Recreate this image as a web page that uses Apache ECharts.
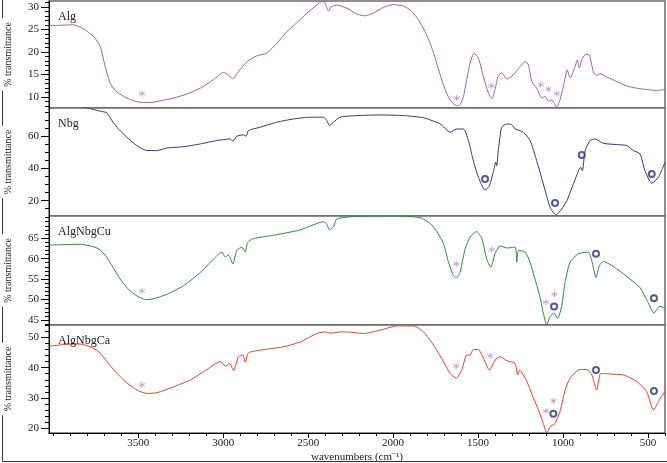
<!DOCTYPE html>
<html style="height: 100%">
<head>
<meta charset="utf-8">
</head>
<body style="height: 100%; margin: 0; background: #fff">
<div id="container" style="width: 667px; height: 463px"></div>
<script type="text/javascript" src="https://cdn.jsdelivr.net/npm/echarts@6/dist/echarts.min.js"></script>
<script type="text/javascript">
// spectra: [wavenumber, % transmittance]
var algData = [[4024,25.8],[3880,26.0],[3822,25.1],[3763,23.4],[3723,21.2],[3704,18.2],[3684,15.3],[3665,13.0],[3635,11.4],[3586,10.1],[3527,9.1],[3469,8.7],[3429,8.7],[3370,9.1],[3292,9.7],[3214,10.6],[3135,11.9],[3057,13.8],[2998,15.4],[2969,14.9],[2945,14.0],[2920,15.1],[2860,17.8],[2802,19.1],[2743,19.7],[2684,21.9],[2625,24.5],[2566,26.5],[2507,28.6],[2449,30.4],[2419,31.2],[2400,30.8],[2380,29.1],[2365,30.0],[2331,30.4],[2272,29.7],[2213,28.4],[2165,28.0],[2116,28.6],[2057,29.9],[1998,30.5],[1939,30.2],[1890,29.0],[1851,27.1],[1812,24.5],[1782,21.9],[1753,18.6],[1723,14.9],[1694,11.6],[1665,9.3],[1626,8.0],[1606,8.2],[1586,10.1],[1567,13.8],[1547,17.5],[1524,19.7],[1498,18.6],[1469,14.5],[1439,10.8],[1419,9.6],[1400,11.6],[1381,14.7],[1361,15.3],[1331,13.9],[1292,14.9],[1253,16.7],[1223,17.8],[1204,17.1],[1184,13.4],[1155,11.9],[1125,9.7],[1106,10.1],[1086,9.0],[1066,9.3],[1037,7.7],[1018,9.3],[998,12.3],[975,16.0],[959,14.2],[929,16.7],[916,18.2],[904,16.4],[890,18.2],[865,19.5],[845,19.3],[822,15.6],[802,14.7],[782,15.1],[743,14.4],[684,13.4],[625,12.4],[566,11.9],[508,11.6],[449,11.4],[400,11.6]];
var nbgData = [[4024,84],[3900,80],[3782,77.1],[3723,75.5],[3684,74.5],[3655,69.7],[3616,64.5],[3567,59.4],[3508,54.2],[3449,51.1],[3390,51.1],[3331,52.7],[3233,53.5],[3135,55.2],[3037,57.3],[2959,58.3],[2943,56.9],[2920,60.0],[2880,60.8],[2865,60.0],[2851,63.5],[2782,65.6],[2684,68.7],[2586,70.7],[2488,71.8],[2409,71.8],[2390,69.7],[2374,66.6],[2351,68.7],[2312,71.8],[2213,72.8],[2076,73.2],[1939,72.8],[1821,71.4],[1723,67.6],[1665,62.5],[1626,64.5],[1586,64.5],[1557,57.3],[1528,44.8],[1498,34.5],[1459,26.6],[1433,29.3],[1406,39.7],[1396,43.9],[1390,41.8],[1381,51.1],[1361,65.6],[1331,67.6],[1302,67.2],[1282,64.5],[1233,62.5],[1194,57.3],[1155,44.8],[1116,30.4],[1076,15.9],[1041,11.1],[1008,14.8],[978,20.0],[939,30.4],[896,40.7],[886,38.6],[870,51.1],[841,57.3],[812,58.3],[763,55.6],[684,54.8],[625,54.2],[586,51.1],[547,49.0],[518,38.6],[478,30.8],[439,34.5],[400,43.9]];
var cuData = [[4024,63.3],[3841,63.5],[3782,63.1],[3733,62.4],[3694,60.8],[3655,58.3],[3606,55.0],[3557,52.5],[3508,50.9],[3459,50.0],[3410,50.2],[3331,51.3],[3233,53.4],[3135,56.6],[3057,59.9],[3008,61.6],[2988,60.4],[2969,60.9],[2943,58.7],[2920,62.0],[2890,62.8],[2870,61.6],[2857,63.9],[2821,64.9],[2704,65.7],[2547,67.0],[2409,69.0],[2390,68.4],[2374,67.0],[2351,67.8],[2331,69.7],[2213,70.3],[1978,70.4],[1841,70.0],[1782,68.6],[1743,66.6],[1704,63.7],[1674,59.1],[1649,56.2],[1629,55.2],[1606,56.7],[1576,62.4],[1547,65.3],[1508,66.6],[1478,64.9],[1449,59.9],[1425,57.9],[1400,61.2],[1371,63.1],[1331,62.6],[1282,62.8],[1272,59.1],[1262,62.0],[1223,61.6],[1194,59.1],[1165,55.0],[1135,50.5],[1116,46.7],[1096,43.8],[1076,45.9],[1053,46.7],[1031,45.5],[1008,48.4],[988,54.2],[959,59.1],[910,61.2],[851,61.6],[831,59.5],[806,55.4],[786,58.3],[763,59.3],[684,57.5],[606,55.0],[547,52.9],[498,49.2],[465,46.7],[430,48.4],[400,48.0]];
var caData = [[4024,47.1],[3920,47.7],[3841,47.8],[3782,46.9],[3733,45.3],[3684,42.0],[3635,38.7],[3576,35.4],[3508,32.6],[3449,31.5],[3390,31.7],[3292,33.7],[3194,35.9],[3096,39.4],[3017,42.0],[2988,40.5],[2962,41.4],[2939,39.0],[2910,43.6],[2884,44.2],[2870,41.8],[2851,44.9],[2782,45.8],[2645,46.9],[2547,48.5],[2449,51.3],[2400,51.8],[2370,51.4],[2312,51.8],[2272,51.8],[2174,51.3],[2076,52.4],[1978,53.8],[1880,53.8],[1821,51.8],[1763,47.5],[1704,42.0],[1665,38.1],[1629,36.5],[1596,39.2],[1567,44.2],[1547,44.2],[1528,46.0],[1498,46.0],[1469,43.1],[1433,39.2],[1400,42.5],[1371,43.6],[1331,42.3],[1282,41.4],[1268,37.6],[1256,39.2],[1213,35.4],[1174,29.9],[1145,26.0],[1116,21.6],[1096,18.3],[1076,20.5],[1047,21.6],[1018,25.5],[988,32.6],[959,36.5],[910,39.2],[861,39.4],[831,37.6],[802,32.6],[778,38.1],[724,37.9],[645,37.6],[566,35.4],[508,32.1],[468,26.0],[439,28.8],[400,32.1]];

// band markers
var algStars = [[3478,10.7],[1626,9.7],[1423,12.4],[1131,12.7],[1086,11.7],[1037,10.7]];
var nbgCircles = [[1459,33.5],[1047,18.6],[890,48.4],[478,36.6]];
var cuStars = [[3478,52.1],[1629,58.7],[1420,62.2],[1100,49.4],[1051,51.3]];
var cuCircles = [[1053,48.3],[806,61.2],[465,50.3]];
var caStars = [[3478,34.3],[1629,40.5],[1429,43.9],[1100,25.7],[1057,29.0]];
var caCircles = [[1057,24.8],[806,39.2],[465,32.3]];

var panelNames = ['Alg', 'Nbg', 'AlgNbgCu', 'AlgNbgCa'];
var lineColors = ['#a35fab', '#33387a', '#2f8a40', '#e2432d'];
var yMins = [7.5, 10.5, 43.8, 18.4];
var yMaxs = [31.3, 77.5, 70.4, 54.1];
var yMajors = [[10, 15, 20, 25, 30], [20, 40, 60], [45, 50, 55, 60, 65], [20, 30, 40, 50]];
var yMinorStep = [1, 5, 1, 2];
var xMajors = [500, 1000, 1500, 2000, 2500, 3000, 3500];
var xMin = 400, xMax = 4025;

var serif = 'Liberation Serif';
var gridTops = [1, 108, 216, 325];
var gridHeights = [107, 108, 109, 108];
var starPath = 'path://M5,0L5,10M0.7,2.5L9.3,7.5M0.7,7.5L9.3,2.5';

var dom = document.getElementById('container');
var myChart = echarts.init(dom);

var grids = [], xAxes = [], yAxes = [], series = [], titles = [];
var spectra = [algData, nbgData, cuData, caData];
var stars = [algStars, null, cuStars, caStars];
var circles = [null, nbgCircles, cuCircles, caCircles];
var plain = function (v) { return String(v); };

for (var i = 0; i < 4; i++) {
    grids.push({
        left: 49, right: 2, top: gridTops[i], height: gridHeights[i],
        outerBoundsMode: 'none', containLabel: false,
        show: true, borderColor: '#6a6a6a', borderWidth: 1.5, backgroundColor: '#fff'
    });
    var last = (i === 3);
    xAxes.push({
        type: 'value', gridIndex: i, min: xMin, max: xMax, inverse: true, position: 'bottom',
        axisLine: {show: last, onZero: false, lineStyle: {color: '#000', width: 1}},
        axisTick: {show: last, length: 5, customValues: xMajors, lineStyle: {color: '#000'}},
        axisLabel: {show: last, customValues: xMajors, formatter: plain, margin: 5, color: '#222', fontFamily: serif, fontSize: 11},
        splitLine: {show: false},
        name: last ? 'wavenumbers (cm\u207B\u00B9)' : '',
        nameLocation: 'middle', nameGap: 19,
        nameTextStyle: {color: '#222', fontFamily: serif, fontSize: 11}
    });
    var minors = [];
    for (var v = Math.ceil(yMins[i] / yMinorStep[i]) * yMinorStep[i]; v <= yMaxs[i]; v += yMinorStep[i]) {
        if (yMajors[i].indexOf(v) < 0) minors.push(v);
    }
    yAxes.push({
        type: 'value', gridIndex: i, min: yMins[i], max: yMaxs[i], position: 'left',
        axisLine: {show: true, lineStyle: {color: '#000', width: 1}},
        axisTick: {show: true, length: 8, customValues: yMajors[i], lineStyle: {color: '#000'}},
        axisLabel: {customValues: yMajors[i], formatter: plain, margin: 10, color: '#222', fontFamily: serif, fontSize: 11},
        splitLine: {show: false},
        name: '% transmittance', nameLocation: 'middle', nameRotate: 90, nameGap: 35,
        nameTextStyle: {color: '#222', fontFamily: serif, fontSize: 10, backgroundColor: '#fff', padding: [1, 4]}
    });
    yAxes.push({
        type: 'value', gridIndex: i, min: yMins[i], max: yMaxs[i], position: 'left', offset: 0,
        axisLine: {show: false},
        axisTick: {show: true, length: 4, customValues: minors, lineStyle: {color: '#000'}},
        axisLabel: {show: false},
        splitLine: {show: false}
    });
    titles.push({
        text: panelNames[i], left: 53, top: gridTops[i] + 5,
        textStyle: {fontFamily: serif, fontSize: 12, fontWeight: 'normal', color: '#222'}
    });
    series.push({
        type: 'line', xAxisIndex: i, yAxisIndex: i * 2, data: spectra[i],
        showSymbol: false, clip: true, smooth: 0.2,
        lineStyle: {color: lineColors[i], width: 1}
    });
    if (stars[i]) {
        series.push({
            type: 'scatter', xAxisIndex: i, yAxisIndex: i * 2, data: stars[i],
            symbol: starPath, symbolSize: 6,
            itemStyle: {color: 'transparent', borderColor: '#b590cc', borderWidth: 1}
        });
    }
    if (circles[i]) {
        series.push({
            type: 'scatter', xAxisIndex: i, yAxisIndex: i * 2, data: circles[i],
            symbol: 'emptyCircle', symbolSize: 6,
            itemStyle: {color: '#2b2f7c', borderColor: '#2b2f7c', borderWidth: 1.5}
        });
    }
}

// minor ticks on the wavenumber axis
xAxes.push({
    type: 'value', gridIndex: 3, min: xMin, max: xMax, inverse: true, position: 'bottom', offset: 0,
    axisLine: {show: false},
    axisTick: {show: true, length: 3, customValues: [400, 600, 700, 800, 900, 1100, 1200, 1300, 1400, 1600, 1700, 1800, 1900, 2100, 2200, 2300, 2400, 2600, 2700, 2800, 2900, 3100, 3200, 3300, 3400, 3600, 3700, 3800, 3900, 4000], lineStyle: {color: '#000'}},
    axisLabel: {show: false},
    splitLine: {show: false}
});

var option = {
    animation: false,
    backgroundColor: '#fff',
    title: titles,
    grid: grids,
    xAxis: xAxes,
    yAxis: yAxes,
    series: series,
    graphic: [
        {type: 'line', z: -10, shape: {x1: 2.5, y1: 0, x2: 2.5, y2: 461.5}, style: {stroke: '#333', lineWidth: 1}},
        {type: 'line', z: -10, shape: {x1: 2.5, y1: 461.5, x2: 667, y2: 461.5}, style: {stroke: '#333', lineWidth: 1}}
    ]
};
myChart.setOption(option);
</script>
</body>
</html>
